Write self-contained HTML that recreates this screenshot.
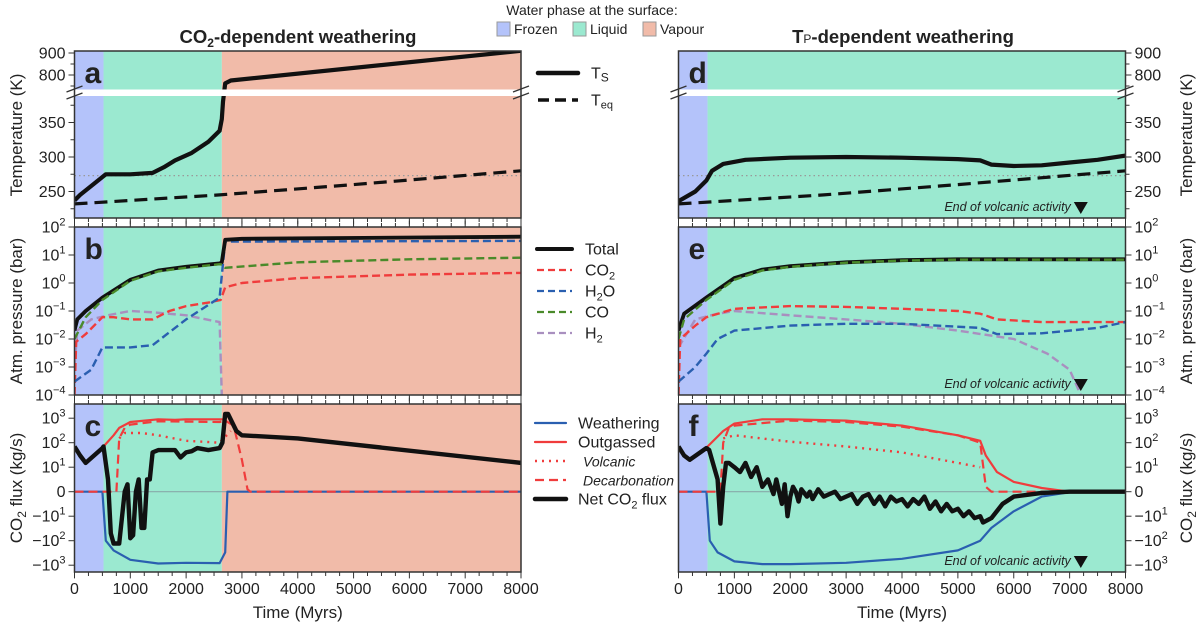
<!DOCTYPE html>
<html><head><meta charset="utf-8">
<style>
body{margin:0;background:#fff;}
svg{display:block;font-family:"Liberation Sans",sans-serif;}
</style></head>
<body>
<svg id="fig" width="1200" height="627" viewBox="0 0 1200 627" xmlns="http://www.w3.org/2000/svg"></svg>
<script>
// ---------- DATA ----------
const phaseFrozenEnd = 520;
const phaseLiquidEndLeft = 2640;
const xTicks = [0,1000,2000,3000,4000,5000,6000,7000,8000];
const tempTicksLow = [250,300,350];
const tempTicksHigh = [800,900];
const presTickExp = [2,1,0,-1,-2,-3,-4];
const fluxTickVals = [1000,100,10,0,-10,-100,-1000];
const fluxTickLbl = ["10³","10²","10¹","0","−10¹","−10²","−10³"];
// panel a
const aTsT = [0,100,300,500,560,1000,1400,1600,1800,2100,2400,2600,2640,2660,2700,2800,8000];
const aTsV = [237,245,258,271,275,275,277,285,295,306,322,338,355,380,762,775,910];
const teqT = [0,2600,5000,8000];
const teqV = [232,245,260,280];
// panel d
const dTsT = [0,300,500,600,800,1200,2000,3000,4000,5000,5400,5600,6000,6500,7000,7500,8000];
const dTsV = [236,250,266,280,290,296,299,300,299,297,295,289,287,288,292,296,302];
// panel b
const bTotT=[0,50,200,500,1000,1500,2000,2600,2640,2700,3000,8000];
const bTotV=[0.02,0.05,0.1,0.3,1.3,2.8,3.8,5,5.5,35,38,45];
const bCOT=[0,200,500,1000,1500,2000,2600,2650,2700,4000,6000,8000];
const bCOV=[0.01,0.06,0.25,1.2,2.6,3.5,4.7,4.5,3.5,5.5,7,8];
const bCO2T=[0,30,200,500,700,1000,1400,1700,2000,2400,2620,2700,3000,4000,6000,8000];
const bCO2V=[0.0001,0.008,0.015,0.06,0.06,0.05,0.05,0.1,0.15,0.2,0.25,0.7,1.0,1.5,2.0,2.3];
const bH2OT=[0,300,500,1000,1400,2000,2600,2650,2700,8000];
const bH2OV=[0.0003,0.0008,0.005,0.005,0.006,0.05,0.3,3,30,32];
const bH2T=[0,50,300,600,1000,1400,2000,2600,2640];
const bH2V=[0.001,0.02,0.05,0.07,0.1,0.09,0.07,0.04,0.0001];
// panel e
const eTotT=[0,100,500,1000,1500,2000,3000,4000,5000,8000];
const eTotV=[0.02,0.08,0.3,1.5,3,4,5.5,6.5,7,7];
const eCOT=[0,100,500,1000,1500,2000,3000,4000,5000,8000];
const eCOV=[0.01,0.05,0.25,1.3,2.8,3.8,5.3,6.3,6.8,6.8];
const eCO2T=[0,30,300,500,1000,2000,3000,4000,5000,5400,5700,6500,8000];
const eCO2V=[0.0001,0.01,0.03,0.06,0.12,0.15,0.14,0.12,0.1,0.08,0.05,0.04,0.04];
const eH2OT=[0,300,500,700,1000,2000,3000,4000,5400,5700,6500,7500,8000];
const eH2OV=[0.0003,0.001,0.003,0.01,0.02,0.03,0.035,0.035,0.025,0.015,0.016,0.025,0.04];
const eH2T=[0,300,700,1000,2000,3000,4000,5000,6000,6600,7000,7200];
const eH2V=[0.005,0.05,0.08,0.1,0.07,0.05,0.035,0.02,0.01,0.003,0.0008,0.0001];
// panel c
const cOutT=[520,700,800,1000,1500,1800,2000,2600,2700];
const cOutV=[70,200,400,700,900,850,900,900,900];
const cDecT=[0,750,800,900,1000,1500,2600,2700,2850,3000,3100,3150,8000];
const cDecV=[0,0,150,400,550,750,700,800,500,20,1,0,0];
const cVolT=[800,900,1200,1500,2000,2600,2800];
const cVolV=[150,250,250,200,120,100,300];
const cWeaT=[0,500,560,700,1000,1500,2000,2600,2700,2740,8000];
const cWeaV=[0,0,-100,-250,-600,-850,-800,-820,-300,0,0];
const cNetT=[0,100,200,500,520,600,650,700,800,900,950,1000,1050,1100,1150,1200,1250,1300,1350,1400,1500,1800,1900,2000,2100,2200,2400,2600,2650,2700,2750,2900,3000,4000,8000];
const cNetV=[70,30,15,60,70,5,-50,-130,-130,0,3,-80,-60,0,5,-30,-30,5,5,40,50,50,25,40,45,60,50,60,100,1500,1500,300,200,150,15];
// panel f
const fOutT=[520,800,1000,1500,2000,3000,4000,5000,5400,5500,5700,6000,6500,7000,8000];
const fOutV=[70,300,600,900,900,800,500,200,120,30,8,4,1.5,0,0];
const fDecT=[0,750,800,900,1000,2000,3000,4000,5000,5400,5500,5600,8000];
const fDecV=[0,0,100,400,500,800,700,450,200,100,2,0,0];
const fVolT=[800,1000,2000,3000,4000,5000,5400];
const fVolV=[150,200,110,70,40,15,10];
const fWeaT=[0,500,560,700,1000,1500,2000,3000,4000,5000,5400,5600,6000,6500,7000,8000];
const fWeaV=[0,0,-100,-300,-700,-900,-900,-800,-550,-250,-100,-30,-8,-2,-0.2,0];
const fNetT=[0,100,200,500,550,700,750,800,850,900,1000,1100,1200,1300,1400,1500,1600,1700,1750,1800,1850,1900,1950,2000,2050,2100,2150,2200,2300,2350,2400,2500,2600,2700,2800,2900,3000,3100,3200,3300,3400,3500,3600,3700,3800,3900,4000,4100,4200,4300,4400,4500,4600,4700,4800,4900,5000,5100,5200,5300,5400,5450,5600,5800,6000,6500,7000,8000];
const fNetV=[70,30,20,60,50,5,-20,2,15,15,10,8,15,6,10,2,5,-1,5,0,-5,3,-10,-2,2,0,-4,1,-2,0,-3,1,-2,-1,0,-3,-2,-1,-5,-2,-1,-5,-2,-6,-2,-4,-3,-6,-3,-5,-2,-7,-4,-8,-5,-8,-7,-10,-8,-12,-10,-18,-12,-5,-2,-0.5,0,0];

// ---------- GEOMETRY ----------
const NS="http://www.w3.org/2000/svg";
const svg=document.getElementById('fig');
const PX={L:[74.5,521],R:[678.5,1125.5]};
const A={top:51,bot:218}, B={top:227,bot:395}, C={top:404,bot:572};
function xs(side,t){const p=PX[side];return p[0]+(p[1]-p[0])*t/8000;}
function yT(T){return T>=600? 75-(T-800)*0.22 : 157-(T-300)*0.69;}
function yP(v){return 227+(2-Math.log10(Math.max(v,1e-5)))*28;}
function yF(v){const a=Math.abs(v);const u=a<=10?a/10:1+Math.log10(a/10);return 491.7-Math.sign(v)*u*24.5;}
function mk(tag,attrs,parent){const e=document.createElementNS(NS,tag);for(const k in attrs)e.setAttribute(k,attrs[k]);(parent||svg).appendChild(e);return e;}
function txt(s,x,y,size,anchor,extra,parent){const e=mk('text',Object.assign({x:x,y:y,'font-size':size,'text-anchor':anchor||'start',fill:'#222'},extra||{}),parent);e.innerHTML=s;return e;}

const defs=mk('defs',{});
function clip(id,side,P){const c=mk('clipPath',{id:id},defs);mk('rect',{x:PX[side][0],y:P.top,width:PX[side][1]-PX[side][0],height:P.bot-P.top},c);}
['L','R'].forEach(s=>{clip('a'+s,s,A);clip('b'+s,s,B);clip('c'+s,s,C);});

const COL={frozen:'#b4c3fa',liquid:'#9be9d0',vapour:'#f1bba9'};
function bg(side,P){
  const g=mk('g',{});
  
  
  const x0=xs(side,0),x1=xs(side,phaseFrozenEnd),x2=xs(side,side==='L'?phaseLiquidEndLeft:8000),x3=xs(side,8000);
  mk('rect',{x:x0,y:P.top,width:x1-x0,height:P.bot-P.top,fill:COL.frozen},g);
  mk('rect',{x:x1,y:P.top,width:x2-x1,height:P.bot-P.top,fill:COL.liquid},g);
  if(side==='L')mk('rect',{x:x2,y:P.top,width:x3-x2,height:P.bot-P.top,fill:COL.vapour},g);
}
function line(name,side,clipId,T,V,yf,color,width,dash){
  let d='';T.forEach((t,i)=>{d+=(i?'L':'M')+xs(side,t).toFixed(1)+','+yf(V[i]).toFixed(1);});
  const p=mk('path',{d:d,fill:'none',stroke:color,'stroke-width':width,'stroke-linejoin':'round','clip-path':'url(#'+clipId+')'});
  if(dash)p.setAttribute('stroke-dasharray',dash);
  
  
  return p;
}
function frame(side,P){
  const x0=xs(side,0),x1=xs(side,8000);
  const r=mk('rect',{x:x0,y:P.top,width:x1-x0,height:P.bot-P.top,fill:'none',stroke:'#333','stroke-width':1.5});
  
  
}
function xTickMarks(side,y,dir,len){
  for(let t=0;t<=8000;t+=250){const x=xs(side,t);const L=t%1000===0?len*1.6:len;mk('line',{x1:x,x2:x,y1:y,y2:y+dir*L,stroke:'#333','stroke-width':1});}
}
function yTick(side,y,major,label,isRight){
  const x=isRight?xs(side,8000):xs(side,0);const d=isRight?1:-1;const L=major?6:4;
  mk('line',{x1:x,x2:x+d*L,y1:y,y2:y,stroke:'#333','stroke-width':1});
  if(label!==null){const t=txt(label,x+d*9,y+5.5,16,isRight?'start':'end');}
}
function letter(s,side,P){const t=txt(s,xs(side,0)+10,P.top+32,30,'start',{'font-weight':'bold',fill:'#222'});}
function endVolc(side,y){
  const x=xs(side,7200);
  const t=txt('End of volcanic activity',x-10,y,12.5,'end',{'font-style':'italic'});
  
  
  const p=mk('path',{d:`M${x-7},${y-9}L${x+7},${y-9}L${x},${y+3}Z`,fill:'#111'});
  
  
}

['L','R'].forEach(side=>{
  const R=side==='R';
  [A,B,C].forEach(P=>bg(side,P));
  [[A.bot,B.top],[B.bot,C.top]].forEach(([y0,y1])=>{xTickMarks(side,y0,1,4);xTickMarks(side,y1,-1,4);});
  const dot=mk('line',{x1:xs(side,0),x2:xs(side,8000),y1:yT(273),y2:yT(273),stroke:'#999','stroke-width':1.2,'stroke-dasharray':'1.5,3'});
  
  
  line('teq-line',side,'a'+side,teqT,teqV,yT,'#111',3.2,'13,7');
  if(R) line('ts-line',side,'a'+side,dTsT,dTsV,yT,'#111',4.2);
  else line('ts-line',side,'a'+side,aTsT,aTsV,yT,'#111',4.2);
  const band=mk('rect',{x:xs(side,0)-1,y:89.5,width:xs(side,8000)-xs(side,0)+2,height:6.5,fill:'#fff'});
  
  
  [xs(side,0),xs(side,8000)].forEach(x=>{
    mk('line',{x1:x-8,y1:92,x2:x+8,y2:86,stroke:'#333','stroke-width':1.3});
    mk('line',{x1:x-8,y1:99,x2:x+8,y2:93,stroke:'#333','stroke-width':1.3});
  });
  const pb=R?[eTotT,eTotV,eCOT,eCOV,eCO2T,eCO2V,eH2OT,eH2OV,eH2T,eH2V]:[bTotT,bTotV,bCOT,bCOV,bCO2T,bCO2V,bH2OT,bH2OV,bH2T,bH2V];
  line('h2-pressure',side,'b'+side,pb[8],pb[9],yP,'#a98fbf',2.4,'8,4');
  line('co2-pressure',side,'b'+side,pb[4],pb[5],yP,'#f03c3c',2.4,'8,4');
  line('h2o-pressure',side,'b'+side,pb[6],pb[7],yP,'#2a5fb0',2.4,'8,4');
  line('total-pressure',side,'b'+side,pb[0],pb[1],yP,'#111',3.8);
  line('co-pressure',side,'b'+side,pb[2],pb[3],yP,'#4a8a2a',2.4,'8,4');
  const zl=mk('line',{x1:xs(side,0),x2:xs(side,8000),y1:yF(0),y2:yF(0),stroke:'#8aa','stroke-width':1.2});
  
  
  const pc=R?[fOutT,fOutV,fDecT,fDecV,fVolT,fVolV,fWeaT,fWeaV,fNetT,fNetV]:[cOutT,cOutV,cDecT,cDecV,cVolT,cVolV,cWeaT,cWeaV,cNetT,cNetV];
  line('weathering-flux',side,'c'+side,pc[6],pc[7],yF,'#2a5fb0',2.2);
  line('outgassed-flux',side,'c'+side,pc[0],pc[1],yF,'#f03c3c',2.2);
  line('decarbonation-flux',side,'c'+side,pc[2],pc[3],yF,'#f03c3c',2.2,'9,5');
  line('volcanic-flux',side,'c'+side,pc[4],pc[5],yF,'#f03c3c',2.4,'2,5');
  line('net-co2-flux',side,'c'+side,pc[8],pc[9],yF,'#111',4.4);
  [A,B,C].forEach(P=>frame(side,P));
  tempTicksHigh.forEach(v=>yTick(side,yT(v),true,String(v),R));
  [750,850].forEach(v=>{if(yT(v)>A.top&&yT(v)<89)yTick(side,yT(v),false,null,R);});
  tempTicksLow.forEach(v=>yTick(side,yT(v),true,String(v),R));
  [225,275,325,375].forEach(v=>yTick(side,yT(v),false,null,R));
  presTickExp.forEach(e=>yTick(side,yP(Math.pow(10,e)),true,'10<tspan dy="-7" font-size="11">'+(e<0?'−'+(-e):e)+'</tspan>',R));
  fluxTickVals.forEach((v,i)=>{
    const l=fluxTickLbl[i];
    const lab=l.length>1&&l!=='0'?l.replace(/10(.)$/,'10<tspan dy="-7" font-size="11">$1</tspan>').replace('³','3').replace('²','2').replace('¹','1'):l;
    yTick(side,yF(v),true,lab,R);
  });
  xTickMarks(side,C.bot,1,4);
  xTicks.forEach(t=>{const l=txt(String(t),xs(side,t),594,16,'middle');});
  const xt=txt('Time (Myrs)',(PX[side][0]+PX[side][1])/2,618,17,'middle');
  
  
  const yx=R?1192:22;
  [['Temperature (K)',135],['Atm. pressure (bar)',311],['CO<tspan dy="4" font-size="12">2</tspan><tspan dy="-4"> flux (kg/s)</tspan>',488]].forEach(([s,y])=>{
    const t=txt(s,yx,y,17,'middle',{transform:`rotate(-90 ${yx} ${y})`});
    
    
  });
  letter(R?'d':'a',side,A);letter(R?'e':'b',side,B);letter(R?'f':'c',side,C);
  if(R){endVolc(side,211);endVolc(side,388);endVolc(side,565);}
});

let t1=txt('CO<tspan dy="4" font-size="12">2</tspan><tspan dy="-4">-dependent weathering</tspan>',298,43,18.5,'middle',{'font-weight':'bold'});


let t2=txt('T<tspan font-size="12" font-weight="normal">P</tspan>-dependent weathering',903,43,18.5,'middle',{'font-weight':'bold'});


let lt=txt('Water phase at the surface:',592,15,14,'middle');


[['Frozen',497,COL.frozen],['Liquid',573,COL.liquid],['Vapour',643,COL.vapour]].forEach(([s,x,c])=>{
  const g=mk('g',{});
  
  
  mk('rect',{x:x,y:22,width:13,height:14,fill:c,stroke:'#999','stroke-width':1},g);
  txt(s,x+17,34,14,'start',{},g);
});
function legLine(name,x1,x2,y,color,w,dash,label,tx,italic){
  const g=mk('g',{});
  
  
  const l=mk('line',{x1:x1,x2:x2,y1:y,y2:y,stroke:color,'stroke-width':w,'stroke-linecap':dash?'butt':'round'},g);
  if(dash)l.setAttribute('stroke-dasharray',dash);
  txt(label,tx,y+5.5,16,'start',italic?{'font-style':'italic','font-size':14}:{},g);
}
legLine('legend-ts',538,578,73,'#111',4.5,null,'T<tspan font-size="12" dy="3">S</tspan>',591);
legLine('legend-teq',538,578,100,'#111',3.5,'11,6','T<tspan font-size="11" dy="3">eq</tspan>',591);
legLine('legend-total',537,572,249,'#111',4,null,'Total',585);
legLine('legend-co2',537,572,270,'#f03c3c',2.2,'7,4','CO<tspan dy="4" font-size="11">2</tspan>',585);
legLine('legend-h2o',537,572,291,'#2a5fb0',2.2,'7,4','H<tspan dy="4" font-size="11">2</tspan><tspan dy="-4">O</tspan>',585);
legLine('legend-co',537,572,312,'#4a8a2a',2.2,'7,4','CO',585);
legLine('legend-h2',537,572,333,'#a98fbf',2.2,'7,4','H<tspan dy="4" font-size="11">2</tspan>',585);
legLine('legend-weathering',535,566,423,'#2a5fb0',2.2,null,'Weathering',578);
legLine('legend-outgassed',535,566,442,'#f03c3c',2.2,null,'Outgassed',578);
legLine('legend-volcanic',535,566,461,'#f03c3c',2.4,'2,5','Volcanic',583,true);
legLine('legend-decarbonation',535,566,480,'#f03c3c',2.2,'9,5','Decarbonation',583,true);
legLine('legend-net',535,566,499,'#111',4.5,null,'Net CO<tspan dy="4" font-size="11">2</tspan><tspan dy="-4"> flux</tspan>',578);
</script>
</body></html>
